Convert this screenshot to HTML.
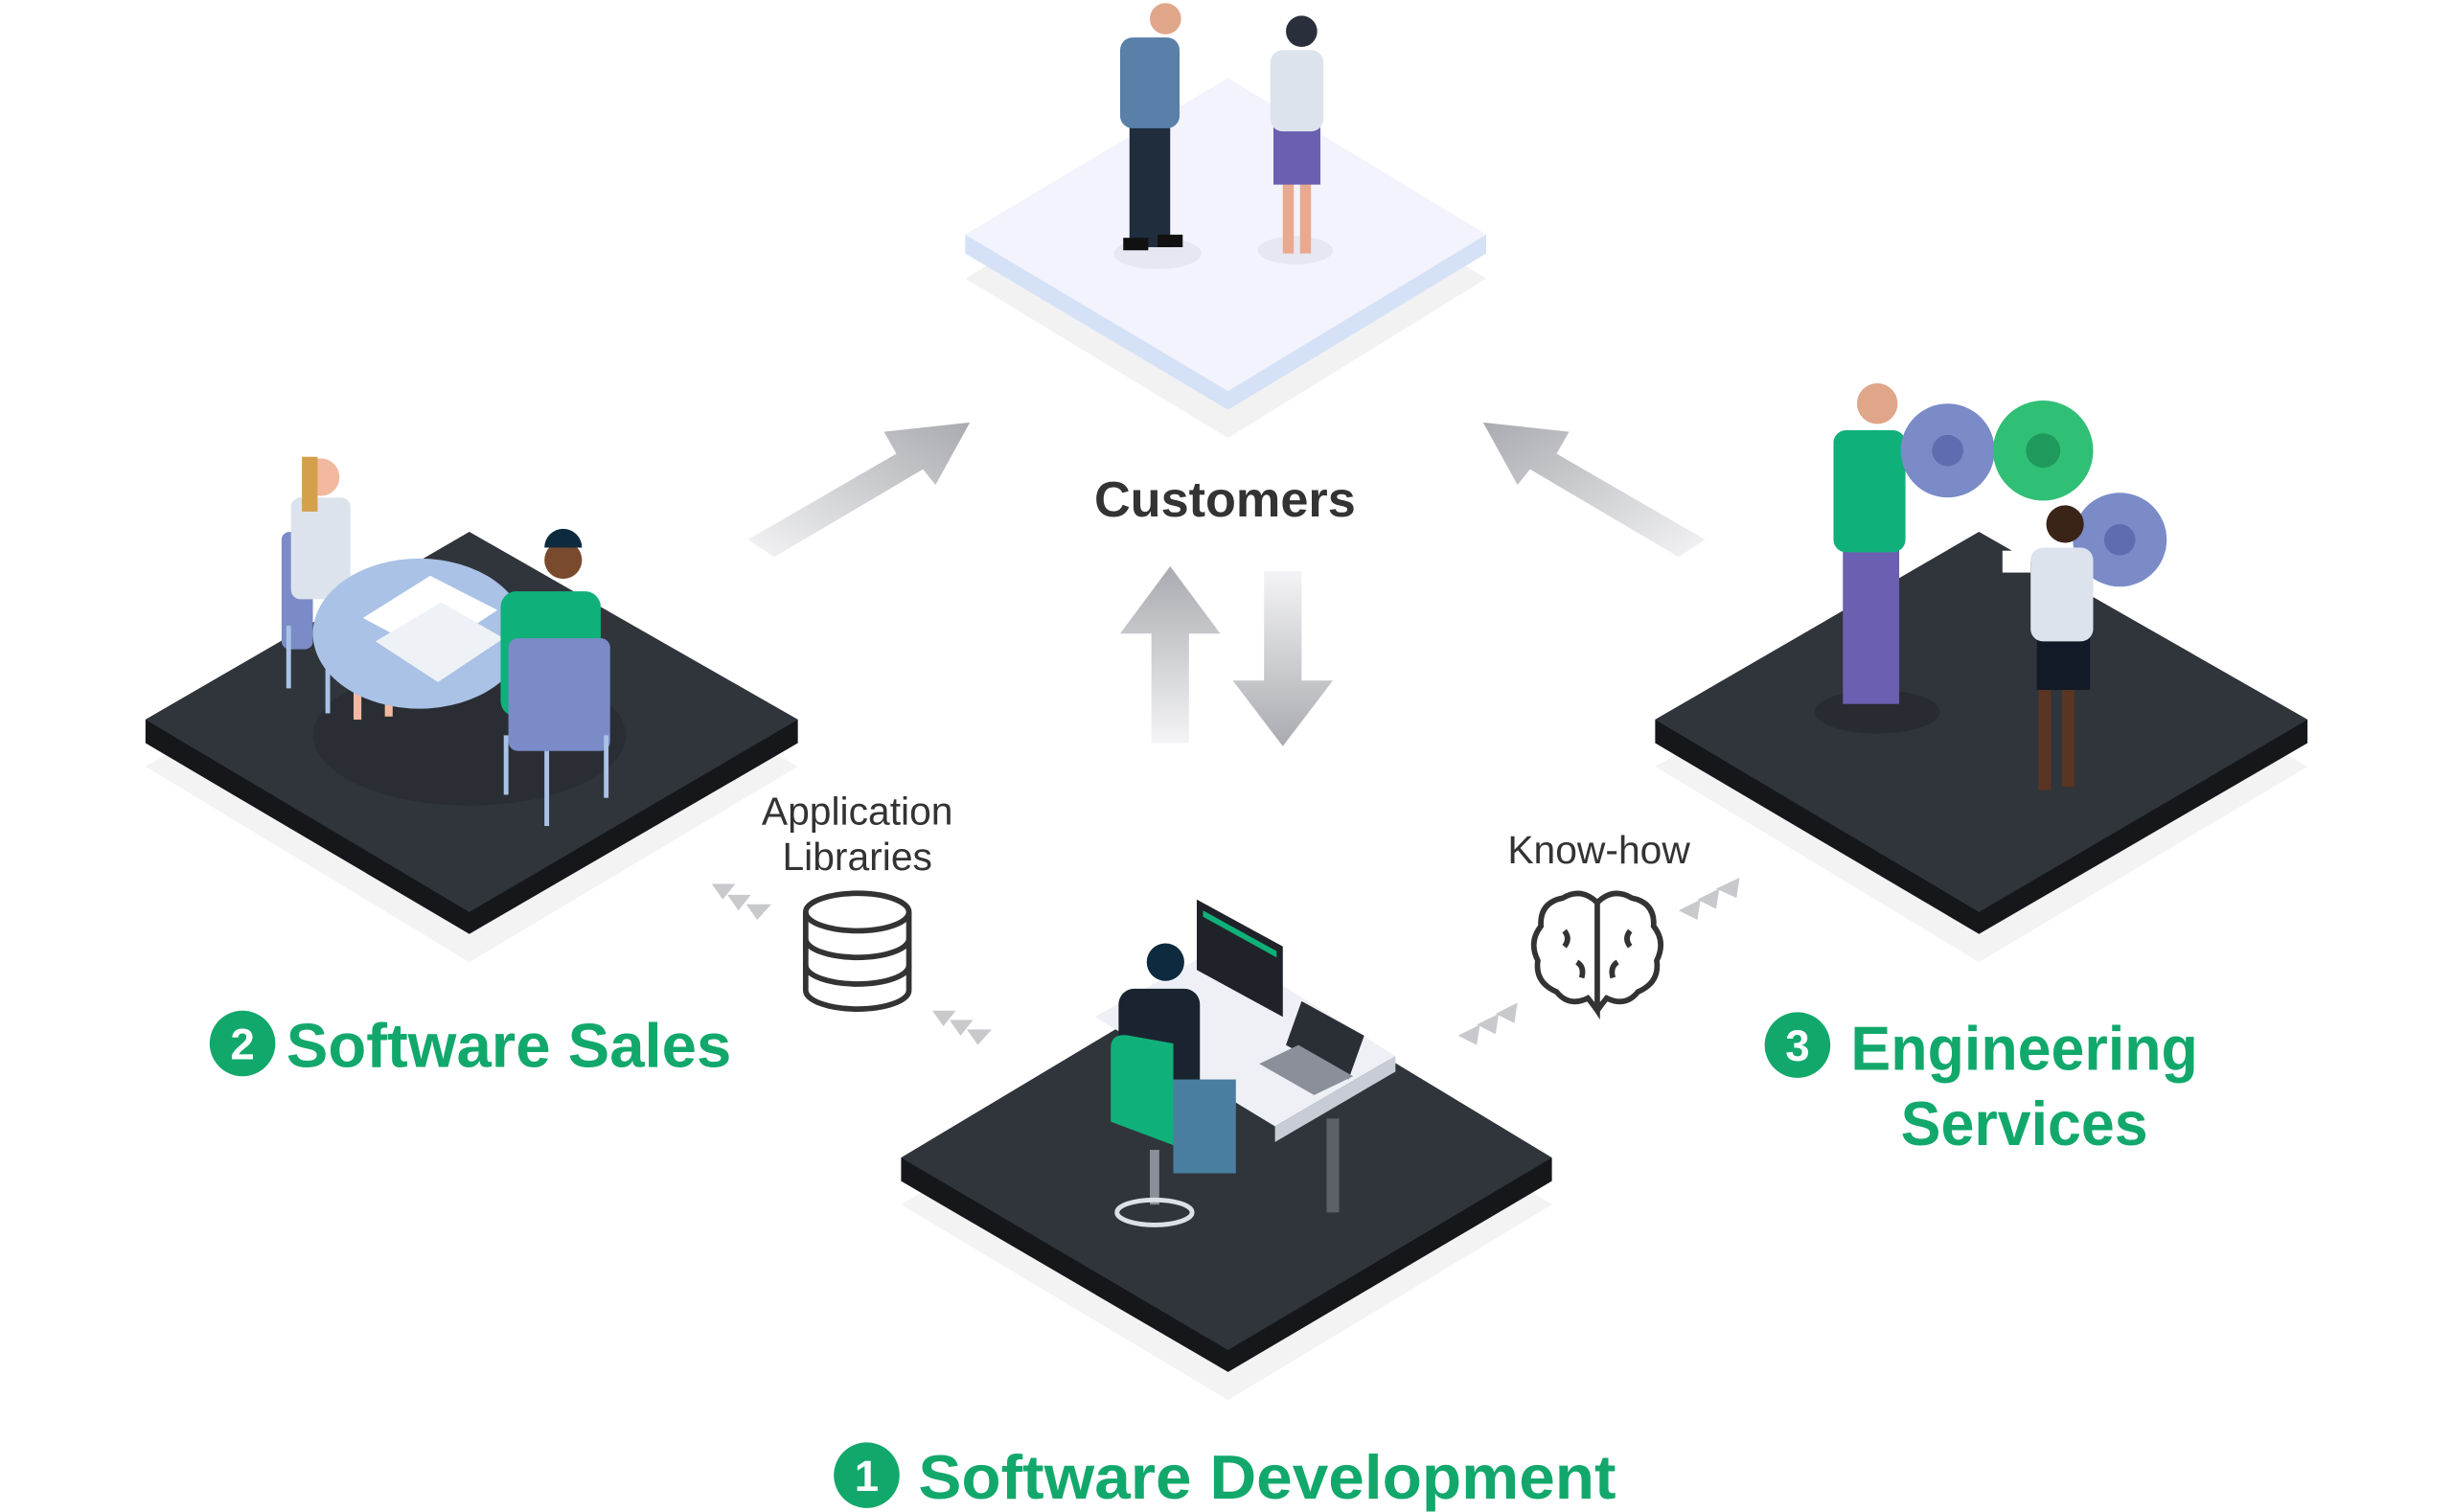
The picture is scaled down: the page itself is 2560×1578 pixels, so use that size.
<!DOCTYPE html>
<html><head><meta charset="utf-8"><style>
html,body{margin:0;padding:0;background:#fff;width:2560px;height:1578px;overflow:hidden}
svg{display:block}
text{font-family:"Liberation Sans",sans-serif}
</style></head><body>
<svg width="2560" height="1578" viewBox="0 0 1568 966.5" preserveAspectRatio="none">
<defs>
<linearGradient id="gu" x1="0" y1="1" x2="0" y2="0"><stop offset="0" stop-color="#f4f4f6"/><stop offset="1" stop-color="#a9abb0"/></linearGradient>
<linearGradient id="gd" x1="0" y1="0" x2="0" y2="1"><stop offset="0" stop-color="#f4f4f6"/><stop offset="1" stop-color="#a9abb0"/></linearGradient>
<linearGradient id="gl" x1="0" y1="1" x2="1" y2="0"><stop offset="0" stop-color="#f4f4f6"/><stop offset="1" stop-color="#a9abb0"/></linearGradient>
<linearGradient id="gr" x1="1" y1="1" x2="0" y2="0"><stop offset="0" stop-color="#f4f4f6"/><stop offset="1" stop-color="#a9abb0"/></linearGradient>
</defs>

<!-- Customers platform -->
<polygon points="617,178 785,78 950,178 785,280" fill="#f2f2f2"/>
<polygon points="617,150 785,50 950,150 950,162 785,262 617,162" fill="#d5e1f6"/>
<polygon points="617,150 785,50 950,150 785,250" fill="#f2f3fc"/>
<ellipse cx="740" cy="162" rx="28" ry="10" fill="#e6e7f0"/>
<ellipse cx="828" cy="160" rx="24" ry="9" fill="#e6e7f0"/>
<!-- man -->
<rect x="722" y="78" width="26" height="80" fill="#1f2d3d"/>
<rect x="716" y="24" width="38" height="58" rx="8" fill="#5a7fa8"/>
<circle cx="745" cy="12" r="10" fill="#e0a68a"/>
<rect x="718" y="152" width="16" height="8" fill="#111"/><rect x="740" y="150" width="16" height="8" fill="#111"/>
<!-- woman -->
<rect x="820" y="110" width="7" height="52" fill="#e9a98f"/><rect x="831" y="110" width="7" height="52" fill="#e9a98f"/>
<rect x="814" y="80" width="30" height="38" fill="#6a5fb0"/>
<rect x="812" y="32" width="34" height="52" rx="8" fill="#dde3ec"/>
<circle cx="832" cy="20" r="10" fill="#2a2f3c"/>

<!-- Arrows -->
<polygon points="736,475 736,405 716,405 748,362 780,405 760,405 760,475" fill="url(#gu)"/>
<polygon points="808,365 808,435 788,435 820,477 852,435 832,435 832,365" fill="url(#gd)"/>
<polygon points="478,345 573,290 565,276 620,270 598,310 590,300 495,356" fill="url(#gl)"/>
<polygon points="1090,345 995,290 1003,276 948,270 970,310 978,300 1073,356" fill="url(#gr)"/>

<text x="783" y="330" text-anchor="middle" font-size="32" font-weight="bold" fill="#333">Customers</text>

<!-- Sales platform -->
<polygon points="93,490 300,370 510,490 300,615" fill="#f3f3f3"/>
<polygon points="93,460 300,340 510,460 510,475 300,597 93,475" fill="#15171a"/>
<polygon points="93,460 300,340 510,460 300,583" fill="#30353c"/>
<ellipse cx="300" cy="470" rx="100" ry="45" fill="#2a2e34"/>
<rect x="180" y="340" width="20" height="75" rx="5" fill="#7a8bc8"/>
<rect x="226" y="410" width="5" height="50" fill="#f2b9a0"/><rect x="246" y="410" width="5" height="48" fill="#f2b9a0"/>
<rect x="186" y="318" width="38" height="65" rx="6" fill="#dde3ec"/>
<circle cx="205" cy="305" r="12" fill="#f2b9a0"/><rect x="193" y="292" width="10" height="35" fill="#d4a04a"/>
<ellipse cx="268" cy="405" rx="68" ry="48" fill="#a9c2e6"/>
<polygon points="232,395 275,368 318,390 275,418" fill="#fff"/>
<polygon points="240,410 282,385 322,408 280,436" fill="#eef1f6"/>
<rect x="320" y="378" width="64" height="80" rx="10" fill="#10b07a"/>
<circle cx="360" cy="358" r="12" fill="#7a4a2e"/><path d="M348,350 a12,12 0 0 1 24,0 z" fill="#0e2a3e"/>
<rect x="325" y="408" width="65" height="72" rx="6" fill="#7a8bc8"/>
<rect x="322" y="470" width="3" height="38" fill="#a9c2e6"/><rect x="348" y="480" width="3" height="48" fill="#a9c2e6"/><rect x="386" y="470" width="3" height="40" fill="#a9c2e6"/>
<rect x="183" y="400" width="3" height="40" fill="#a9c2e6"/><rect x="208" y="420" width="3" height="36" fill="#a9c2e6"/>

<!-- Eng platform -->
<polygon points="1058,490 1265,370 1475,490 1265,615" fill="#f3f3f3"/>
<polygon points="1058,460 1265,340 1475,460 1475,475 1265,597 1058,475" fill="#15171a"/>
<polygon points="1058,460 1265,340 1475,460 1265,583" fill="#30353c"/>
<ellipse cx="1200" cy="455" rx="40" ry="14" fill="#282c32"/>
<rect x="1178" y="345" width="36" height="105" fill="#6a5fb0"/>
<rect x="1172" y="275" width="46" height="78" rx="8" fill="#10b07a"/>
<circle cx="1200" cy="258" r="13" fill="#e0a68a"/>
<circle cx="1245" cy="288" r="30" fill="#7a8bc8"/><circle cx="1245" cy="288" r="10" fill="#5d6db0"/>
<circle cx="1306" cy="288" r="32" fill="#2fbf75"/><circle cx="1306" cy="288" r="11" fill="#20995d"/>
<circle cx="1355" cy="345" r="30" fill="#7a8bc8"/><circle cx="1355" cy="345" r="10" fill="#5d6db0"/>
<rect x="1303" y="435" width="8" height="70" fill="#5a3524"/><rect x="1318" y="435" width="8" height="68" fill="#5a3524"/>
<rect x="1302" y="405" width="34" height="36" fill="#111a26"/>
<rect x="1298" y="350" width="40" height="60" rx="8" fill="#dde3ec"/>
<circle cx="1320" cy="335" r="12" fill="#3a2418"/>
<rect x="1280" y="352" width="18" height="14" fill="#fff"/>

<!-- Dev platform -->
<polygon points="576,770 785,645 992,770 785,895" fill="#f3f3f3"/>
<polygon points="576,740 785,615 992,740 992,755 785,877 576,755" fill="#15171a"/>
<polygon points="576,740 785,615 992,740 785,863" fill="#30353c"/>
<polygon points="700,650 780,605 892,675 815,720" fill="#eef0f6"/>
<polygon points="815,720 892,675 892,685 815,730" fill="#c8ccd6"/>
<rect x="848" y="715" width="8" height="60" fill="#5c6068"/>
<polygon points="765,575 820,605 820,650 765,620" fill="#1f2329"/>
<polygon points="769,582 816,608 816,612 769,586" fill="#10b07a"/>
<polygon points="832,640 872,662 862,690 822,668" fill="#2a2e35"/>
<polygon points="805,680 840,700 865,688 830,668" fill="#8a8f99"/>
<rect x="715" y="632" width="52" height="70" rx="10" fill="#1a2430"/>
<circle cx="745" cy="615" r="12" fill="#0e2a3e"/>
<rect x="750" y="690" width="40" height="60" fill="#4a7ea0"/>
<path d="M710,670 q0,-10 12,-8 l28,5 l0,65 l-40,-15 z" fill="#10b07a"/>
<rect x="735" y="735" width="6" height="35" fill="#8a8f99"/>
<ellipse cx="738" cy="775" rx="24" ry="8" fill="none" stroke="#dde0e6" stroke-width="3"/>

<!-- chevrons -->
<g fill="#c8c9cc">
<polygon points="455,565 470,565 462,575"/><polygon points="465,572 480,572 472,582"/><polygon points="477,578 493,578 484,588"/>
<polygon points="596,646 611,646 603,656"/><polygon points="607,652 622,652 614,662"/><polygon points="618,658 634,658 625,668"/>
<polygon points="932,662 946,655 944,668"/><polygon points="944,655 958,648 956,661"/><polygon points="956,648 970,641 968,654"/>
<polygon points="1073,582 1087,575 1085,588"/><polygon points="1085,575 1099,568 1097,581"/><polygon points="1097,568 1112,561 1110,574"/>
</g>

<!-- database -->
<g fill="none" stroke="#333" stroke-width="3.5">
<ellipse cx="548" cy="583" rx="33" ry="12"/>
<path d="M515,583 v50 a33,12 0 0 0 66,0 v-50"/>
<path d="M515,600 a33,12 0 0 0 66,0"/><path d="M515,617 a33,12 0 0 0 66,0"/>
</g>
<text x="548" y="527" text-anchor="middle" font-size="25" fill="#333">Application</text>
<text x="548" y="556" text-anchor="middle" font-size="25" fill="#333">Libraries</text>

<!-- brain -->
<g fill="none" stroke="#333" stroke-width="3.5">
<path d="M1021,577 q-10,-10 -22,-3 q-15,3 -14,18 q-8,10 -2,22 q-2,14 12,20 q8,10 20,4 q4,5 6,8 z"/>
<path d="M1021,577 q10,-10 22,-3 q15,3 14,18 q8,10 2,22 q2,14 -12,20 q-8,10 -20,4 q-4,5 -6,8"/>
<path d="M1000,595 q4,5 0,10 M1008,615 q5,3 3,10 M1042,595 q-4,5 0,10 M1034,615 q-5,3 -3,10"/>
</g>
<text x="1022" y="552" text-anchor="middle" font-size="25" fill="#333">Know-how</text>

<!-- labels -->
<g fill="#12a86c" font-weight="bold">
<circle cx="155" cy="667" r="21"/>
<text x="155" y="677" text-anchor="middle" font-size="28" fill="#fff">2</text>
<text x="183" y="682" font-size="40">Software Sales</text>
<circle cx="554" cy="943" r="21"/>
<text x="554" y="953" text-anchor="middle" font-size="28" fill="#fff">1</text>
<text x="587" y="958" font-size="40" textLength="446" lengthAdjust="spacingAndGlyphs">Software Development</text>
<circle cx="1149" cy="668" r="21"/>
<text x="1149" y="678" text-anchor="middle" font-size="28" fill="#fff">3</text>
<text x="1183" y="684" font-size="40" textLength="222" lengthAdjust="spacingAndGlyphs">Engineering</text>
<text x="1215" y="732" font-size="40" textLength="158" lengthAdjust="spacingAndGlyphs">Services</text>
</g>
</svg>
</body></html>
